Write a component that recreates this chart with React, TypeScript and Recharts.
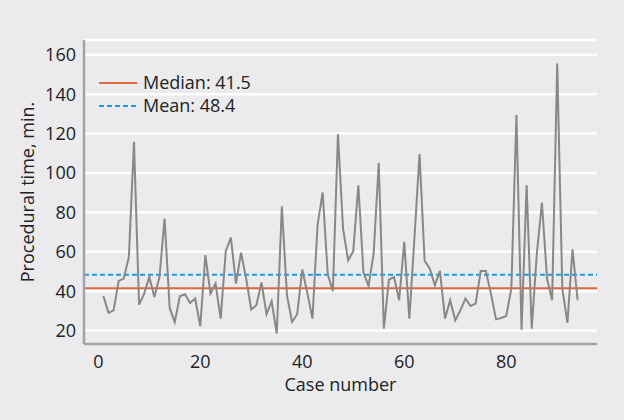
import React from "react";
import { LineChart, Line, XAxis, YAxis, CartesianGrid, ReferenceLine } from "recharts";

const caseNumbers: number[] = Array.from({ length: 94 }, (_, i) => i + 1);
const procTimes: number[] = [
  37.6, 29, 30.3, 45.2, 46.4, 57.4, 115.8, 33.2, 38.8, 47.2,
  37, 47.2, 76.9, 31.5, 24.4, 37.4, 38.4, 34, 36.3, 22.2,
  58.3, 38.8, 43.9, 26.1, 60.3, 67.2, 43.9, 59.6, 46.4, 30.7,
  32.9, 44.4, 28.3, 34.9, 18.5, 83.1, 37.9, 24.4, 28.3, 51,
  39, 26.1, 73.5, 90.1, 48.6, 40, 119.7, 71.8, 55.7, 60.3,
  93.8, 49.5, 42.7, 59.1, 105.1, 21, 45.9, 47.2, 35.4, 65,
  26.1, 67, 109.6, 55.4, 51.5, 43, 50.3, 26.1, 35.4, 25.2,
  30.3, 36.3, 32.5, 33.7, 50.3, 50.3, 38.8, 25.7, 26.4, 27.4,
  41.3, 129.4, 20.5, 93.8, 21, 59.1, 85, 46.4, 35.4, 155.6,
  41.3, 23.9, 61.2, 35.4,
];
const xTicks: number[] = [0, 20, 40, 60, 80];
const yTicks: number[] = [20, 40, 60, 80, 100, 120, 140, 160];
const medianValue = 41.5;
const meanValue = 48.4;
const legendLabels: string[] = ["Median: 41.5", "Mean: 48.4"];

const data = caseNumbers.map((c, i) => ({ case: c, time: procTimes[i] }));

const FONT = "'Open Sans', sans-serif";
const FS = 18;
const BG = "#ebebed";
const MEDIAN_COLOR = "#e1673f";
const MEAN_COLOR = "#1e9ad9";

export default function App() {
  return (
    <div style={{ position: "absolute", left: 0, top: 0, width: 624, height: 420, background: BG, fontFamily: FONT }}>
      <LineChart width={624} height={420} data={data} margin={{ top: 40, right: 27, bottom: 26, left: 0 }}>
        <CartesianGrid vertical={false} stroke="#ffffff" strokeWidth={2.5} />
        <XAxis
          dataKey="case"
          type="number"
          domain={[-2.8, 97.8]}
          ticks={xTicks}
          allowDataOverflow
          height={50}
          tickLine={false}
          tickMargin={5}
          axisLine={{ stroke: "#a3a3a5", strokeWidth: 2.5 }}
          tick={{ fill: "#222", fontSize: FS, fontFamily: FONT }}
          label={{ value: "Case number", position: "insideBottom", offset: 3, fill: "#222", fontSize: FS, fontFamily: FONT }}
        />
        <YAxis
          type="number"
          domain={[13.2, 167.5]}
          ticks={yTicks}
          allowDataOverflow
          width={84}
          tickLine={false}
          axisLine={{ stroke: "#a3a3a5", strokeWidth: 2.5 }}
          tick={{ fill: "#222", fontSize: FS, fontFamily: FONT }}
          label={{ value: "Procedural time, min.", angle: -90, position: "insideLeft", offset: 28, fill: "#222", fontSize: FS, fontFamily: FONT, style: { textAnchor: "middle" } }}
        />
        <ReferenceLine y={medianValue} stroke={MEDIAN_COLOR} strokeWidth={2} ifOverflow="extendDomain" />
        <ReferenceLine y={meanValue} stroke={MEAN_COLOR} strokeWidth={2} strokeDasharray="5 3" />
        <Line type="linear" dataKey="time" stroke="#888888" strokeWidth={2} dot={false} isAnimationActive={false} />
      </LineChart>
      <div style={{ position: "absolute", left: 99, top: 71, fontSize: FS, color: "#222", fontFamily: FONT }}>
        {legendLabels.map((lbl, i) => (
          <div key={lbl} style={{ display: "flex", alignItems: "center", height: 23 }}>
            <svg width={38} height={4} style={{ marginRight: 6 }}>
              <line x1={0} y1={2} x2={38} y2={2} stroke={i === 0 ? MEDIAN_COLOR : MEAN_COLOR} strokeWidth={2} strokeDasharray={i === 0 ? undefined : "5 3"} />
            </svg>
            <span style={{ lineHeight: "23px" }}>{lbl}</span>
          </div>
        ))}
      </div>
    </div>
  );
}
